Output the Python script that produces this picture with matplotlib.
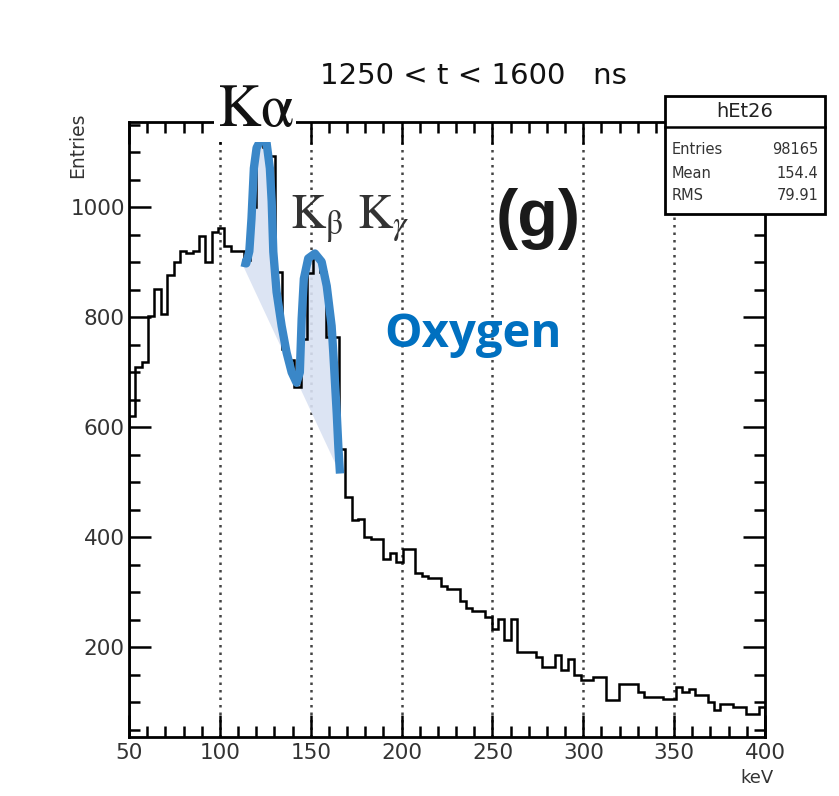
import numpy as np
import matplotlib.pyplot as plt
from matplotlib.patches import Rectangle
from matplotlib.lines import Line2D

# --- histogram (hEt26), 100 bins of 3.5 keV from 50 to 400 ---
x_min, x_max = 50, 400
bin_width = 3.5
counts = [
    620, 710, 718, 802, 852, 806, 876, 900, 920, 916,
    920, 947, 901, 955, 962, 930, 921, 921, 905, 1000,
    1115, 1110, 1093, 883, 742, 723, 674, 760, 880, 910,
    883, 764, 764, 560, 473, 432, 434, 400, 397, 397,
    360, 372, 355, 379, 379, 335, 330, 326, 326, 311,
    306, 306, 285, 271, 266, 266, 256, 233, 251, 214,
    251, 192, 192, 192, 183, 165, 165, 187, 159, 178,
    150, 141, 141, 147, 147, 104, 104, 134, 134, 134,
    119, 110, 110, 110, 106, 106, 128, 119, 125, 113,
    113, 101, 86, 97, 97, 92, 92, 79, 79, 92,
]

# --- fit curve (keV, entries) ---
fit_kev = [111.9, 114.5, 116.2, 117.4, 118.7, 120.2, 123.0, 125.7, 127.5,
           128.5, 129.4, 131.2, 134.0, 136.7, 139.5, 142.2, 144.0, 145.0,
           146.2, 148.6, 152.3, 156.0, 158.8, 161.5, 162.4, 164.3, 165.2, 166.1]
fit_val = [900, 898, 920, 980, 1071, 1108, 1126, 1117, 1071,
           1011, 919, 846, 784, 736, 700, 681, 700, 797,
           870, 907, 916, 901, 857, 784, 736, 626, 564, 516]

title = "1250 < t < 1600   ns"
stats_name = "hEt26"
stats_rows = [("Entries", "98165"), ("Mean", "154.4"), ("RMS", "79.91")]

fig = plt.figure(figsize=(8.39, 7.96), dpi=100)
ax = fig.add_axes([0.1538, 0.0741, 0.7580, 0.7726])

edges = np.arange(len(counts) + 1) * bin_width + x_min
ax.stairs(counts, edges, color='black', lw=1.8, zorder=3)

# fit: shaded peaks over linear background + thick blue line
ax.fill(fit_kev, fit_val, color='#d9e1f2', alpha=0.9, lw=0, zorder=2)
ax.plot(fit_kev, fit_val, color='#3a87c8', lw=6, solid_capstyle='butt',
        solid_joinstyle='round', zorder=4)

ax.set_xlim(x_min, x_max)
ax.set_ylim(37, 1155)

for xv in range(100, 400, 50):
    ax.axvline(xv, color='#444444', ls=(0, (1, 2)), lw=1.8, zorder=1)

ax.set_xticks(range(50, 401, 50))
ax.set_xticks(range(50, 401, 10), minor=True)
ax.set_yticks(range(200, 1001, 200))
ax.set_yticks(range(50, 1151, 50), minor=True)
ax.tick_params(which='both', direction='in', top=True, right=True,
               width=1.8, color='black')
ax.tick_params(which='major', length=16, labelsize=15.5, labelcolor='#333333', pad=4)
ax.tick_params(axis='y', which='major', pad=3)
ax.tick_params(which='minor', length=8)
for s in ax.spines.values():
    s.set_linewidth(2)

ax.text(0.541, 1.052, title, transform=ax.transAxes, ha='center', va='bottom',
        fontsize=21, color='#111111')

plt.rcParams['mathtext.fontset'] = 'stix'
ax.text(0.198, 0.994, r'K$\mathrm{\alpha}$', transform=ax.transAxes, ha='center',
        va='baseline', fontsize=43, family='STIXGeneral', color='#111111',
        bbox=dict(facecolor='white', edgecolor='none', pad=2), zorder=6)
ax.text(0.253, 0.827, r'K$_\mathrm{\beta}$ K$_\gamma$', transform=ax.transAxes,
        ha='left', va='baseline', fontsize=35, family='STIXGeneral',
        color='#333333', zorder=6)
ax.text(0.577, 0.815, '(g)', transform=ax.transAxes, ha='left', va='baseline',
        fontsize=48, fontweight='bold', family='Liberation Sans', color='#1a1a1a')
ax.text(0.402, 0.634, 'Oxygen', transform=ax.transAxes, ha='left', va='baseline',
        fontsize=34, fontweight='bold', family='Open Sans', color='#0070c0')

fig.text(0.092, 0.818, 'Entries', rotation=90, ha='center', va='center',
         fontsize=13.5, color='#333333')
fig.text(0.882, 0.022, 'keV', ha='left', va='center', fontsize=13, color='#333333')

# stats box
bx0, bx1 = 665 / 839, 825 / 839
by_top, by_bot = 1 - 96 / 796, 1 - 214 / 796
by_sep = 1 - 127 / 796
fig.patches.append(Rectangle((bx0, by_bot), bx1 - bx0, by_top - by_bot,
                             transform=fig.transFigure, facecolor='white',
                             edgecolor='black', lw=2, zorder=10))
fig.lines.append(Line2D([bx0, bx1], [by_sep, by_sep], transform=fig.transFigure,
                        color='black', lw=1.8, zorder=11))
fig.text((bx0 + bx1) / 2, (by_top + by_sep) / 2, stats_name, ha='center',
         va='center', fontsize=14, color='#222222', zorder=12)
row_y = [1 - 150 / 796, 1 - 173 / 796, 1 - 196 / 796]
for (lab, val), yy in zip(stats_rows, row_y):
    fig.text(bx0 + 0.008, yy, lab, ha='left', va='center', fontsize=10.5,
             color='#333333', zorder=12)
    fig.text(bx1 - 0.008, yy, val, ha='right', va='center', fontsize=10.5,
             color='#333333', zorder=12)

fig.savefig('out.png', dpi=100, facecolor='white')
